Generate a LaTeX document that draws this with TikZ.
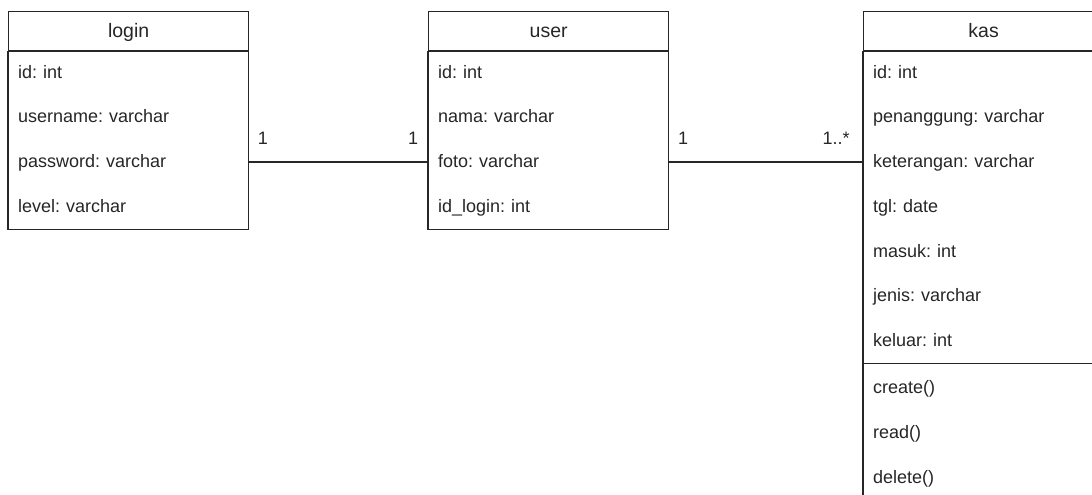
\documentclass[tikz,border=0pt]{standalone}
\usepackage{fontspec}
\setmainfont{Liberation Sans}
\frenchspacing
\begin{document}
\begin{tikzpicture}[x=1pt,y=-1pt,
  umlhead/.style={rectangle, draw=black!85, line width=1.3pt, minimum width=240pt,
    minimum height=39pt, anchor=north west, inner sep=0pt,
    text height=15.5pt, text depth=3pt,
    font=\fontsize{19.5}{22}\selectfont, text=black!85},
  umlrow/.style={rectangle, minimum width=240pt, minimum height=44.75pt, text width=220pt,
    align=left, inner xsep=10pt, inner ysep=0pt, anchor=north west,
    text height=14pt, text depth=3pt,
    font=\fontsize{18}{21}\selectfont, text=black!85},
  umlframe/.style={draw=black!85, line width=1.3pt},
  assoc/.style={draw=black!85, line width=1.3pt},
  mult/.style={font=\fontsize{18}{21}\selectfont, text=black!85, inner sep=0pt}]
\useasboundingbox (0,0) rectangle (1092,495);
\clip (0,0) rectangle (1092,495);

% class: login
\node[umlhead] (lgH) at (8,11) {login};
\node[umlrow] (lg1) at (8,50) {id: int};
\node[umlrow] (lg2) at (8,94.75) {username: varchar};
\node[umlrow] (lg3) at (8,139.5) {password: varchar};
\node[umlrow] (lg4) at (8,184.25) {level: varchar};
\draw[umlframe] (lgH.south west) rectangle (lg4.south east);

% class: user
\node[umlhead] (usH) at (428,11) {user};
\node[umlrow] (us1) at (428,50) {id: int};
\node[umlrow] (us2) at (428,94.75) {nama: varchar};
\node[umlrow] (us3) at (428,139.5) {foto: varchar};
\node[umlrow] (us4) at (428,184.25) {id\_login: int};
\draw[umlframe] (usH.south west) rectangle (us4.south east);

% class: kas
\node[umlhead] (ksH) at (863,11) {kas};
\node[umlrow] (ks1) at (863,50) {id: int};
\node[umlrow] (ks2) at (863,94.75) {penanggung: varchar};
\node[umlrow] (ks3) at (863,139.5) {keterangan: varchar};
\node[umlrow] (ks4) at (863,184.25) {tgl: date};
\node[umlrow] (ks5) at (863,229) {masuk: int};
\node[umlrow] (ks6) at (863,273.75) {jenis: varchar};
\node[umlrow] (ks7) at (863,318.5) {keluar: int};
\node[umlrow] (km1) at (863,365.5) {create()};
\node[umlrow] (km2) at (863,410.25) {read()};
\node[umlrow] (km3) at (863,455) {delete()};
\draw[umlframe] (ksH.south west) rectangle (km3.south east);
\draw[umlframe] (ks7.south west) -- (ks7.south east);

% associations
\draw[assoc] (lg3.east) -- (us3.west);
\draw[assoc] (us3.east) -- (ks3.west);

% multiplicities
\node[mult] (m1) at (263,138) {1};
\node[mult] (m2) at (413,138) {1};
\node[mult] (m3) at (683,138) {1};
\node[mult] (m4) at (836,138) {1..*};
\end{tikzpicture}
\end{document}
